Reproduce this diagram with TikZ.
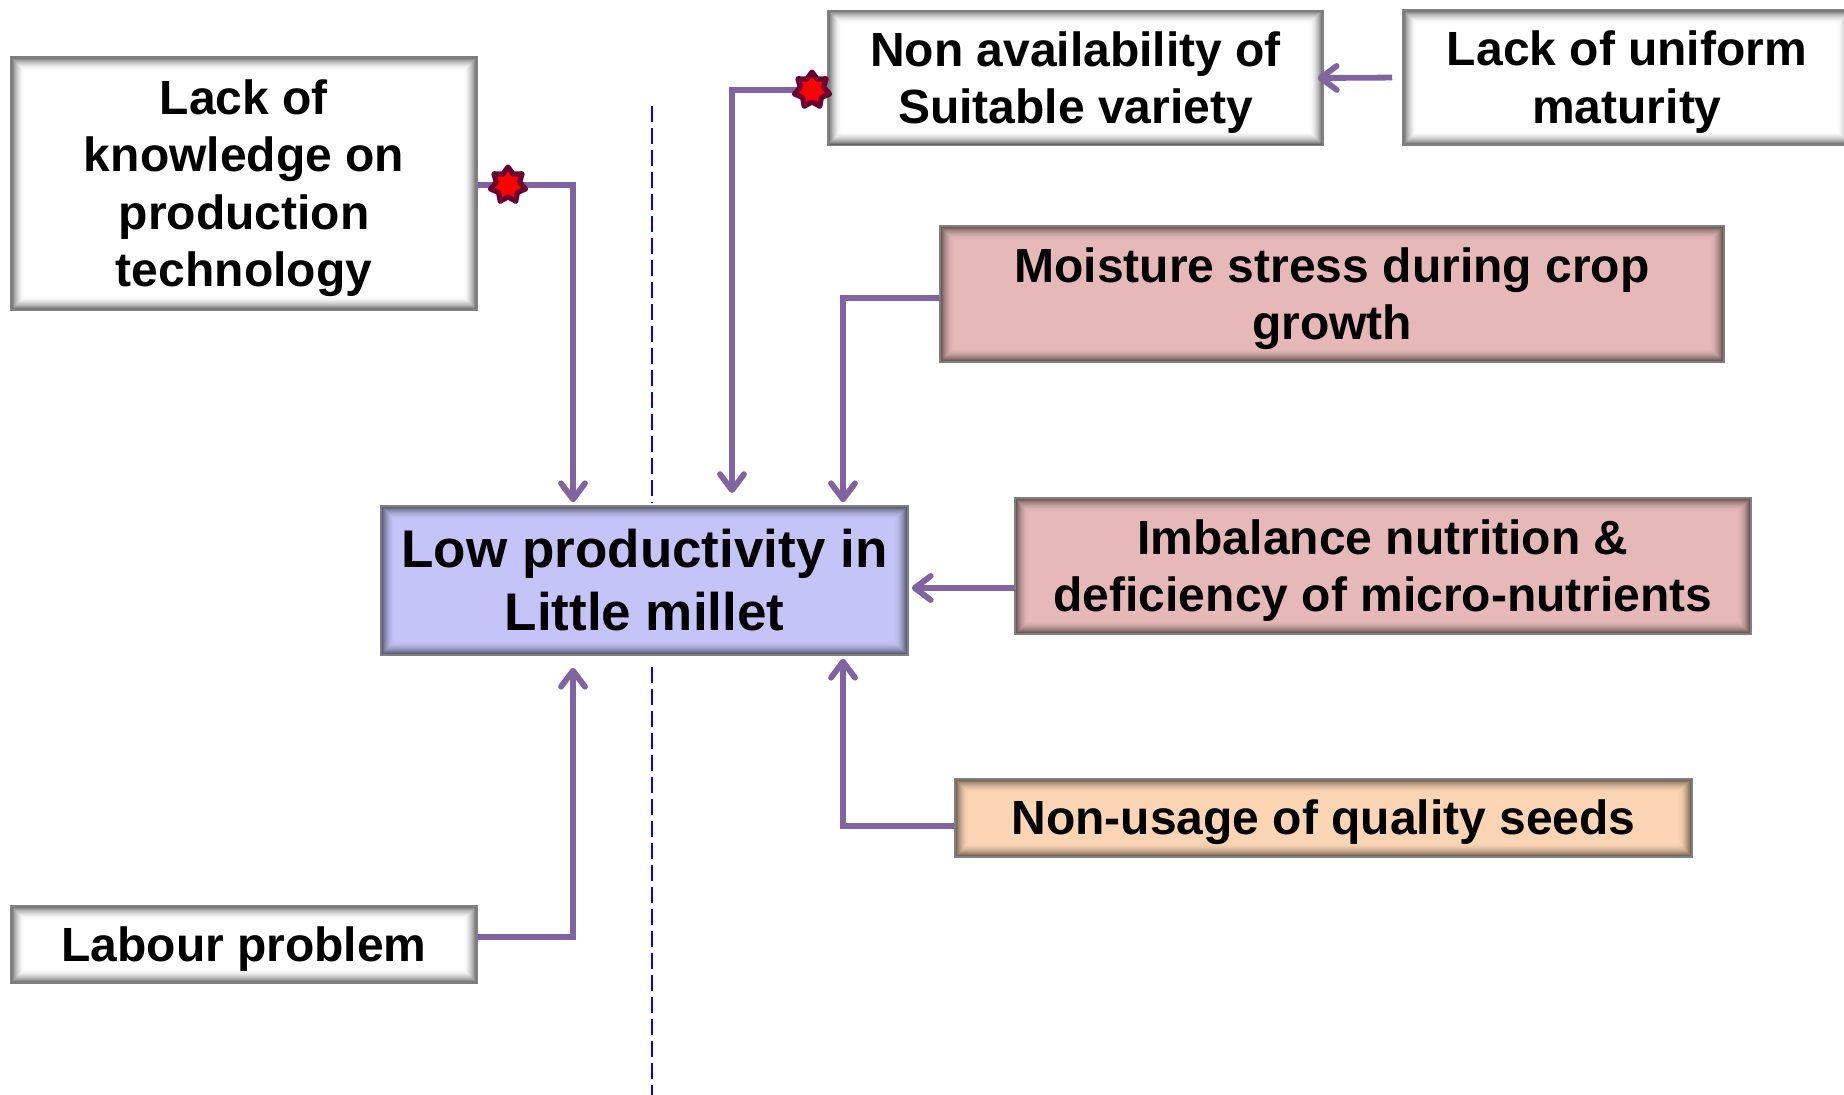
\documentclass[tikz,border=0pt]{standalone}
\usepackage{fontspec}
\setmainfont{Liberation Sans}
\usetikzlibrary{shapes.geometric,arrows.meta}
\definecolor{connc}{HTML}{8064A2}
\definecolor{centralfill}{HTML}{C4C4F8}
\definecolor{pinkfill}{HTML}{E6B9B8}
\definecolor{peachfill}{HTML}{FCD5B5}
\definecolor{boxedge}{HTML}{7F7F7F}
\definecolor{starfill}{HTML}{FF0000}
\definecolor{staredge}{HTML}{6A0032}
\definecolor{dashblue}{HTML}{0000FF}
\newcommand\lowtext[1]{\raisebox{-2.75pt}[\height][\depth]{\begin{tabular}{@{}c@{}}#1\end{tabular}}}
\tikzset{
  innershade/.style={path picture={
    \foreach \i in {0,...,13}{
      \pgfmathsetmacro\op{0.6*(1-\i/14)^2}
      \draw[black, draw opacity=\op, line width=0.5pt]
        ([shift={(\i*0.5pt+0.25pt,\i*0.5pt+0.25pt)}]path picture bounding box.south west) rectangle
        ([shift={(-\i*0.5pt-0.25pt,-\i*0.5pt-0.25pt)}]path picture bounding box.north east);
    }}},
  box/.style={draw=boxedge, line width=0.8pt, inner sep=0pt, align=center,
    font=\bfseries\fontsize{24}{28.75}\selectfont, innershade},
  bigbox/.style={box, font=\bfseries\fontsize{26.5}{31.5}\selectfont},
  conn/.style={draw=connc, line width=2.9pt,
    -{Straight Barb[length=8pt,width=12pt,round]},
    preaction={draw=black, draw opacity=0.13, transform canvas={shift={(0.8pt,-1.1pt)}}}},
  startip/.style={star, star points=7, star point ratio=1.5, minimum size=18pt,
    inner sep=0pt, fill=starfill, draw=staredge, line width=2.6pt, line join=round},
  divider/.style={draw=dashblue, line width=1pt, dash pattern=on 8pt off 3pt}
}
\begin{document}
\begin{tikzpicture}[x=0.5pt,y=-0.5pt]
\useasboundingbox[fill=white] (0,0) rectangle (1844,1095);

% divider
\coordinate (d1) at (652,106);
\coordinate (d2) at (652,503);
\coordinate (d3) at (652,667);
\coordinate (d4) at (652,1095);
\draw[divider] (d1) -- (d2);
\draw[divider] (d3) -- (d4);

% boxes
\node[box, fill=white, minimum width=233pt, minimum height=126.5pt] (know) at (244,183.5)
  {\lowtext{Lack of\\knowledge on\\production\\technology}};
\node[box, fill=white, minimum width=247.5pt, minimum height=67.5pt] (navail) at (1075.5,78)
  {\lowtext{Non availability of\\Suitable variety}};
\node[box, fill=white, minimum width=224pt, minimum height=67.5pt] (uniform) at (1627,77.5)
  {\lowtext{Lack of uniform\\maturity}};
\node[box, fill=pinkfill, minimum width=392pt, minimum height=68pt] (moisture) at (1332,294)
  {\lowtext{Moisture stress during crop\\growth}};
\node[bigbox, fill=centralfill, minimum width=263.5pt, minimum height=74.5pt] (central) at (644.5,580.5)
  {Low productivity in\\Little millet};
\node[box, fill=pinkfill, minimum width=368pt, minimum height=68pt] (imbalance) at (1383,566)
  {\lowtext{Imbalance nutrition \&\\deficiency of micro-nutrients}};
\node[box, fill=peachfill, minimum width=368.5pt, minimum height=39pt] (nonusage) at (1323.5,818)
  {\lowtext{Non-usage of quality seeds}};
\node[box, fill=white, minimum width=233pt, minimum height=38.5pt] (labour) at (244,944.5)
  {\lowtext{Labour problem}};

% connectors
\coordinate (s1c) at (508,185);
\coordinate (s2c) at (812,90);
\coordinate (k1) at (573,185);
\coordinate (n1) at (732,90);
\coordinate (n2) at (732,493);
\coordinate (m1) at (843,298);
\coordinate (i1) at (1015,588);
\coordinate (q1) at (843,826);
\coordinate (l1) at (573,937);

\draw[conn] (s1c -| know.east) -- (k1) -- ([yshift=1.5pt]k1 |- central.north);
\draw[conn] (s2c -| navail.west) -- (n1) -- (n2);
\draw[conn] (m1 -| moisture.west) -- (m1) -- ([yshift=1.5pt]m1 |- central.north);
\draw[conn] (i1 -| imbalance.west) -- ([xshift=1.5pt]i1 -| central.east);
\draw[conn] (q1 -| nonusage.west) -- (q1) -- ([yshift=-1.5pt]q1 |- central.south);
\draw[conn] (l1 -| labour.east) -- (l1) -- ([yshift=-6pt]l1 |- central.south);
\draw[conn, shorten <=5pt, shorten >=-3pt] (uniform.west) -- (navail.east);

% stars
\node[startip] (s1) at (s1c) {};
\node[startip] (s2) at (s2c) {};
\end{tikzpicture}
\end{document}
